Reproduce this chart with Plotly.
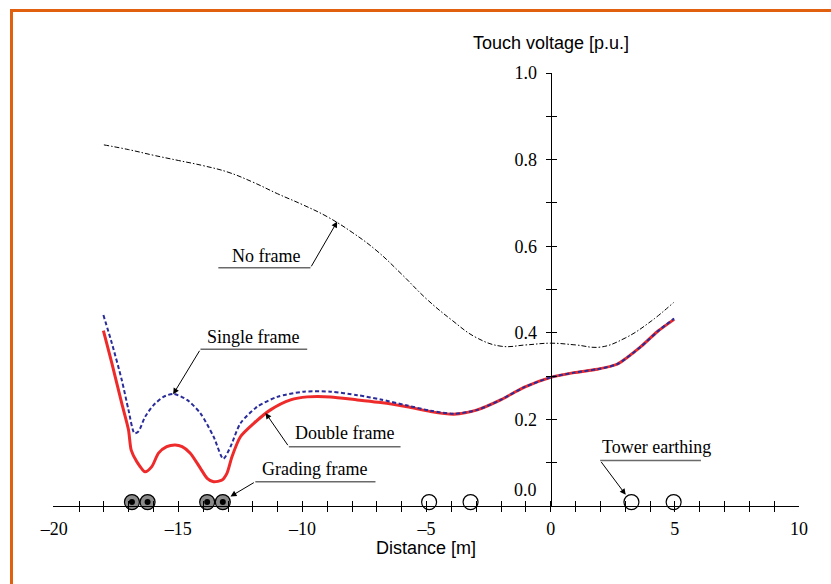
import plotly.graph_objects as go

# ---------------- data ----------------
no_frame_x = [-18.0, -17.0, -16.0, -15.0, -14.0, -13.0, -12.0, -11.0, -10.0, -9.0, -8.0, -7.0,
              -6.0, -5.0, -4.0, -3.0, -2.0, -1.0, 0.0, 1.0, 2.0, 3.0, 4.0, 4.95]
no_frame_y = [0.834, 0.823, 0.810, 0.798, 0.786, 0.771, 0.748, 0.721, 0.696, 0.668, 0.632, 0.589,
              0.535, 0.478, 0.430, 0.389, 0.369, 0.372, 0.376, 0.372, 0.367, 0.388, 0.425, 0.470]

single_x = [-18.02, -17.68, -17.28, -17.01, -16.77, -16.61, -16.34, -16.0, -15.6, -15.2, -14.65,
            -14.11, -13.58, -13.19, -12.9, -12.5, -11.83, -11.02, -9.95, -8.87, -7.79, -6.85,
            -5.78, -4.84, -3.9, -2.96, -2.02, -1.08, 0.0, 0.94, 1.88, 2.69, 3.63, 4.3, 4.97]
single_y = [0.441, 0.376, 0.291, 0.222, 0.168, 0.172, 0.206, 0.233, 0.252, 0.259, 0.245,
            0.214, 0.160, 0.109, 0.137, 0.191, 0.229, 0.252, 0.264, 0.264, 0.256, 0.246,
            0.232, 0.220, 0.213, 0.222, 0.245, 0.274, 0.297, 0.308, 0.316, 0.328, 0.368, 0.403, 0.433]

double_x = [-18.02, -17.68, -17.28, -17.01, -16.9, -16.67, -16.34, -16.07, -15.8, -15.47, -15.13,
            -14.85, -14.52, -14.11, -13.84, -13.58, -13.24, -13.04, -12.84, -12.5, -11.96, -11.29,
            -10.48, -9.81, -8.87, -7.79, -6.85, -5.78, -4.84, -3.9, -2.96, -2.02, -1.08, 0.0,
            0.94, 1.88, 2.69, 3.63, 4.3, 4.97]
double_y = [0.405, 0.330, 0.237, 0.176, 0.129, 0.102, 0.079, 0.091, 0.122, 0.137, 0.141,
            0.137, 0.122, 0.087, 0.064, 0.056, 0.060, 0.076, 0.114, 0.160, 0.191, 0.222,
            0.245, 0.252, 0.252, 0.245, 0.239, 0.229, 0.218, 0.212, 0.222, 0.245, 0.274, 0.297,
            0.308, 0.316, 0.328, 0.368, 0.403, 0.431]

grading_x = [-16.87, -16.24, -13.84, -13.21]
tower_x = [-4.9, -3.23, 3.25, 4.95]
electrode_y = 0.009

x_label_vals = [-20, -15, -10, -5, 0, 5, 10]
x_label_text = ["\u201320", "\u201315", "\u201310", "\u20135", "0", "5", "10"]
x_tick_vals = list(range(-19, 10))
y_tick_vals = [0.0, 0.1, 0.2, 0.3, 0.4, 0.5, 0.6, 0.7, 0.8, 0.9, 1.0]
y_tick_text = ["", "", "0.2", "", "0.4", "", "0.6", "", "0.8", "", "1.0"]

X0, X1 = -20.05, 10.0
Y0, Y1 = 0.0, 1.0
yaxis_pos = (0 - X0) / (X1 - X0)

SERIF = "Liberation Serif"
SANS = "Liberation Sans"

fig = go.Figure()

fig.add_trace(go.Scatter(x=no_frame_x, y=no_frame_y, mode="lines", name="No frame",
                         line=dict(color="black", width=1, dash="5px,2px,1.5px,2px",
                                   shape="spline", smoothing=1.2)))
fig.add_trace(go.Scatter(x=double_x, y=double_y, mode="lines", name="Double frame",
                         line=dict(color="#EE2A2A", width=3, shape="spline", smoothing=0.7)))
fig.add_trace(go.Scatter(x=single_x, y=single_y, mode="lines", name="Single frame",
                         line=dict(color="#2A2C9A", width=2, dash="4px,2.5px",
                                   shape="spline", smoothing=0.7)))

# electrodes
fig.add_trace(go.Scatter(x=grading_x, y=[electrode_y] * len(grading_x), mode="markers",
                         cliponaxis=False, name="Grading frame",
                         marker=dict(symbol="circle", size=15, color="#8A8A8A",
                                     line=dict(color="black", width=1.2))))
fig.add_trace(go.Scatter(x=grading_x, y=[electrode_y] * len(grading_x), mode="markers",
                         cliponaxis=False, name="Grading frame core",
                         marker=dict(symbol="circle", size=6, color="black", line=dict(width=0))))
fig.add_trace(go.Scatter(x=tower_x, y=[electrode_y] * len(tower_x), mode="markers",
                         cliponaxis=False, name="Tower earthing",
                         marker=dict(symbol="circle", size=15, color="white",
                                     line=dict(color="black", width=1.2))))

# helper traces for tick axes
fig.add_trace(go.Scatter(x=[None], y=[None], xaxis="x2", yaxis="y", showlegend=False, hoverinfo="skip"))
fig.add_trace(go.Scatter(x=[None], y=[None], xaxis="x3", yaxis="y", showlegend=False, hoverinfo="skip"))
fig.add_trace(go.Scatter(x=[None], y=[None], xaxis="x", yaxis="y2", showlegend=False, hoverinfo="skip"))

common_x = dict(range=[X0, X1], showgrid=False, zeroline=False, fixedrange=True)
fig.update_layout(
    width=831, height=584,
    margin=dict(l=53, r=32, t=73, b=78),
    paper_bgcolor="white", plot_bgcolor="white",
    showlegend=False,
    xaxis=dict(**common_x, showline=True, linecolor="black", linewidth=1,
               tickmode="array", tickvals=x_label_vals, ticktext=x_label_text, ticks="",
               tickfont=dict(family=SERIF, size=18, color="black"), ticklabelstandoff=6),
    xaxis2=dict(**common_x, overlaying="x", anchor="y", side="bottom", showline=False,
                tickmode="array", tickvals=x_tick_vals, ticks="outside", ticklen=5,
                tickcolor="black", tickwidth=1, showticklabels=False),
    xaxis3=dict(**common_x, overlaying="x", anchor="y", side="bottom", showline=False,
                tickmode="array", tickvals=x_tick_vals, ticks="inside", ticklen=5,
                tickcolor="black", tickwidth=1, showticklabels=False),
    yaxis=dict(range=[Y0, Y1], anchor="free", position=yaxis_pos, side="left",
               showline=True, linecolor="black", linewidth=1.3, showgrid=False, zeroline=False,
               tickmode="array", tickvals=y_tick_vals, ticktext=y_tick_text,
               ticks="outside", ticklen=5, tickcolor="black", tickwidth=1.3,
               tickfont=dict(family=SERIF, size=18, color="black"), ticklabelstandoff=5,
               fixedrange=True),
    yaxis2=dict(range=[Y0, Y1], overlaying="y", anchor="free", position=yaxis_pos, side="left",
                showline=False, showgrid=False, zeroline=False,
                tickmode="array", tickvals=y_tick_vals, ticks="inside", ticklen=5,
                tickcolor="black", tickwidth=1.3, showticklabels=False, fixedrange=True),
)

# orange frame around the figure
fig.add_shape(type="rect", xref="paper", yref="paper",
              x0=(11.5 - 53) / 746, y0=(506 - 10.5) / 433, x1=1.3, y1=-0.4,
              line=dict(color="#E0600F", width=3), fillcolor="rgba(0,0,0,0)", layer="above")

# axis titles
fig.add_annotation(x=0.5, y=0, xref="paper", yref="paper", text="Distance [m]",
                   showarrow=False, yshift=-42, xanchor="center", yanchor="middle",
                   font=dict(family=SANS, size=18, color="black"))
fig.add_annotation(x=0, y=Y1, xref="x", yref="y", text="Touch voltage [p.u.]",
                   showarrow=False, yshift=30, xanchor="center", yanchor="middle",
                   font=dict(family=SANS, size=18, color="black"))
fig.add_annotation(x=0, y=0, xref="x", yref="y", text="0.0", showarrow=False,
                   xanchor="right", yanchor="middle", xshift=-12, yshift=16,
                   font=dict(family=SERIF, size=18, color="black"))

# labels with underline and arrow
labels = [
    # text, text_x, text_y, line_x0, line_x1, line_y, tail_x, tail_y, tip_x, tip_y
    ("No frame", -11.49, 0.577, -13.39, -9.68, 0.550, -9.68, 0.550, -8.60, 0.657),
    ("Single frame", -11.98, 0.391, -14.11, -9.81, 0.362, -14.11, 0.362, -15.21, 0.258),
    ("Double frame", -8.31, 0.169, -10.55, -6.05, 0.137, -10.55, 0.137, -11.49, 0.215),
    ("Grading frame", -9.52, 0.085, -11.90, -7.06, 0.056, -11.90, 0.056, -12.90, 0.022),
    ("Tower earthing", 4.27, 0.136, 1.99, 6.05, 0.105, 1.99, 0.105, 3.02, 0.026),
]
for text, tx, ty, lx0, lx1, ly, ax, ay, hx, hy in labels:
    fig.add_annotation(x=tx, y=ty, xref="x", yref="y", text=text, showarrow=False,
                       xanchor="center", yanchor="middle",
                       font=dict(family=SERIF, size=18, color="black"))
    fig.add_shape(type="line", xref="x", yref="y", x0=lx0, x1=lx1, y0=ly, y1=ly,
                  line=dict(color="#6A6A6A", width=1.5))
    fig.add_annotation(x=hx, y=hy, xref="x", yref="y", ax=ax, ay=ay, axref="x", ayref="y",
                       text="", showarrow=True, arrowhead=2, arrowsize=1.2, arrowwidth=1,
                       arrowcolor="black", standoff=0)

fig.write_html("out.html")
